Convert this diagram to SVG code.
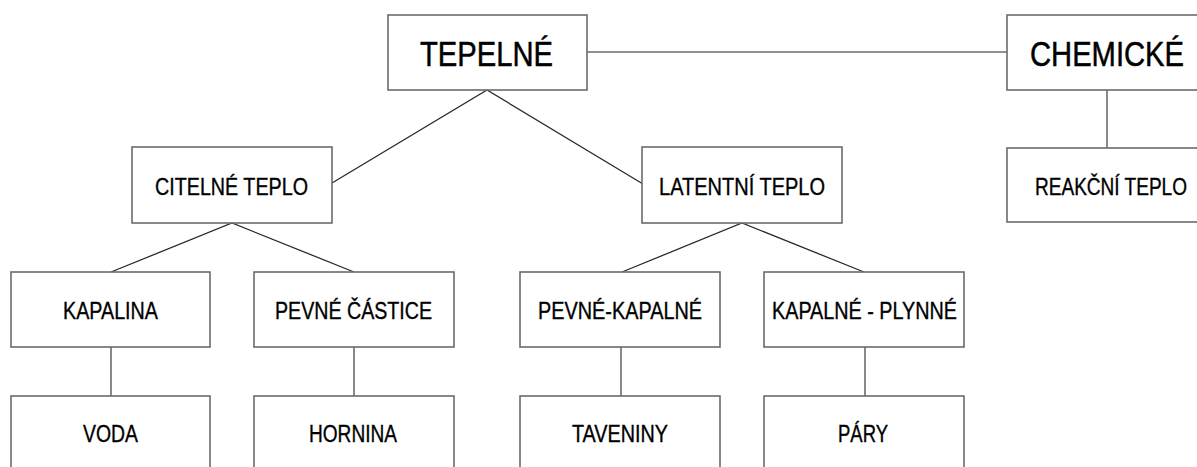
<svg xmlns="http://www.w3.org/2000/svg" width="1197" height="467" viewBox="0 0 1197 467">
<style>
.box{fill:#fff;stroke:#6b6b6b;stroke-width:1.6}
.t{font-family:"Liberation Sans",Arial,sans-serif;fill:#000;stroke:#000;text-anchor:start}
.big{font-size:35px;stroke-width:0.5}
.mid{font-size:23.5px;stroke-width:0.35}
.diag{stroke:#2a2a2a;stroke-width:1.3;fill:none}
.vert{stroke:#6b6b6b;stroke-width:1.6;fill:none}
</style>
<rect width="1197" height="467" fill="#fff"/>
<g id="connectors">
<line class="vert" x1="587" y1="52" x2="1007" y2="52"/>
<line class="vert" x1="1107" y1="90" x2="1107" y2="148"/>
<polyline class="diag" points="332,183 487,90 643,184"/>
<polyline class="diag" points="111,272 232,223 354,272"/>
<polyline class="diag" points="622,272 742,223 864,272"/>
<line class="vert" x1="111" y1="347" x2="111" y2="396"/>
<line class="vert" x1="354" y1="347" x2="354" y2="396"/>
<line class="vert" x1="621" y1="347" x2="621" y2="396"/>
<line class="vert" x1="865" y1="347" x2="865" y2="396"/>
</g>
<g id="tepelne"><rect class="box" x="388" y="15" width="199" height="75"/><text class="t big" x="420" y="66" textLength="133" lengthAdjust="spacingAndGlyphs">TEPELNÉ</text></g>
<g id="chemicke"><rect class="box" x="1007" y="15" width="191" height="75"/><text class="t big" x="1030" y="66" textLength="154" lengthAdjust="spacingAndGlyphs">CHEMICKÉ</text></g>
<g id="reakcni"><rect class="box" x="1007" y="148" width="191" height="74"/><text class="t mid" x="1035" y="195" textLength="152" lengthAdjust="spacingAndGlyphs">REAKČNÍ TEPLO</text></g>
<g id="citelne"><rect class="box" x="132" y="147" width="200" height="76"/><text class="t mid" x="155" y="195" textLength="153" lengthAdjust="spacingAndGlyphs">CITELNÉ TEPLO</text></g>
<g id="latentni"><rect class="box" x="642" y="147" width="200" height="76"/><text class="t mid" x="659" y="195" textLength="166" lengthAdjust="spacingAndGlyphs">LATENTNÍ TEPLO</text></g>
<g id="kapalina"><rect class="box" x="11" y="272" width="199" height="75"/><text class="t mid" x="63" y="319" textLength="95" lengthAdjust="spacingAndGlyphs">KAPALINA</text></g>
<g id="pevne-castice"><rect class="box" x="254" y="272" width="200" height="75"/><text class="t mid" x="275" y="319" textLength="157" lengthAdjust="spacingAndGlyphs">PEVNÉ ČÁSTICE</text></g>
<g id="pevne-kapalne"><rect class="box" x="520" y="272" width="200" height="75"/><text class="t mid" x="538" y="319" textLength="164" lengthAdjust="spacingAndGlyphs">PEVNÉ-KAPALNÉ</text></g>
<g id="kapalne-plynne"><rect class="box" x="764" y="272" width="200" height="75"/><text class="t mid" x="772" y="319" textLength="185" lengthAdjust="spacingAndGlyphs">KAPALNÉ - PLYNNÉ</text></g>
<g id="voda"><rect class="box" x="11" y="396" width="199" height="90"/><text class="t mid" x="83" y="442" textLength="55" lengthAdjust="spacingAndGlyphs">VODA</text></g>
<g id="hornina"><rect class="box" x="254" y="396" width="200" height="90"/><text class="t mid" x="309" y="442" textLength="88" lengthAdjust="spacingAndGlyphs">HORNINA</text></g>
<g id="taveniny"><rect class="box" x="520" y="396" width="200" height="90"/><text class="t mid" x="572" y="442" textLength="96" lengthAdjust="spacingAndGlyphs">TAVENINY</text></g>
<g id="pary"><rect class="box" x="764" y="396" width="200" height="90"/><text class="t mid" x="838" y="442" textLength="50" lengthAdjust="spacingAndGlyphs">PÁRY</text></g>
</svg>
